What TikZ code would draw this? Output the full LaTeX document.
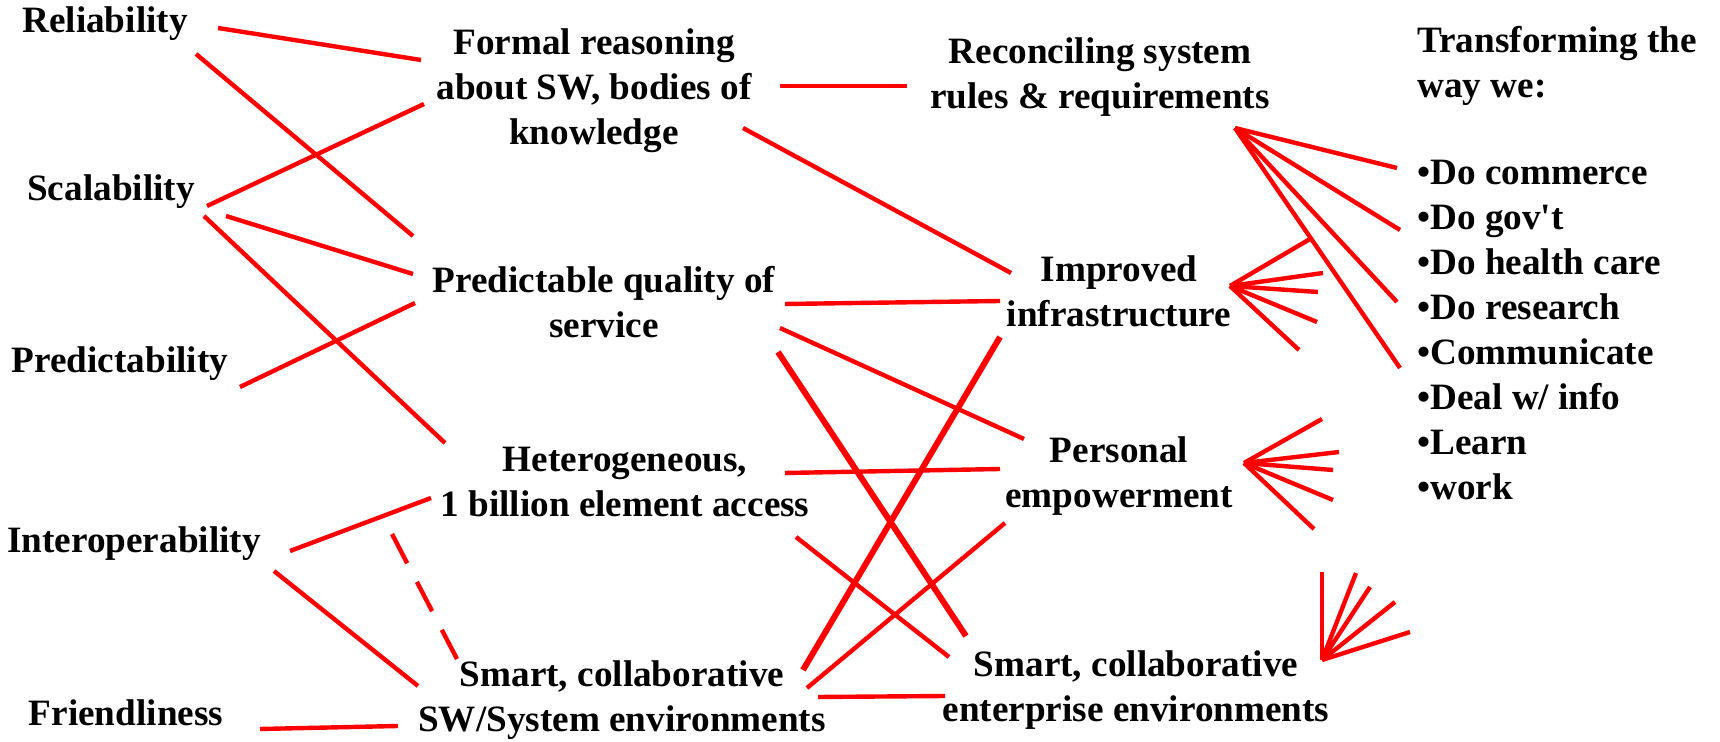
\documentclass[tikz,border=0pt]{standalone}
\usepackage{fontspec}
\setmainfont{Liberation Serif}
\begin{document}
\begin{tikzpicture}[x=0.5pt,y=-0.5pt,
  lbl/.style={font=\bfseries\fontsize{18.6}{22.5}\selectfont, inner sep=0pt, align=center},
  lst/.style={font=\bfseries\fontsize{18.6}{22.5}\selectfont, inner sep=0pt, align=left, anchor=west},
  link/.style={draw=red, line width=2.2pt},
  heavy/.style={draw=red, line width=3pt},
  dashlink/.style={draw=red, line width=2.2pt, dash pattern=on 16.5pt off 10.5pt}]
\useasboundingbox (0,0) rectangle (1720,742);
% left column
\node[lbl] (rel) at (105,24) {Reliability};
\node[lbl] (sca) at (111,192) {Scalability};
\node[lbl] (prd) at (120,364) {Predictability};
\node[lbl] (int) at (134,544) {Interoperability};
\node[lbl] (fri) at (126,713) {Friendliness};
% second column
\node[lbl] (frm) at (594,91) {Formal reasoning\\about SW, bodies of\\knowledge};
\node[lbl] (pqs) at (604,302) {Predictable quality of\\service};
\node[lbl] (het) at (625,482) {Heterogeneous,\\1 billion element access};
\node[lbl] (ssw) at (622,700) {Smart, collaborative\\SW/System environments};
% third column
\node[lbl] (rec) at (1100,77) {Reconciling system\\rules \& requirements};
\node[lbl] (imp) at (1119,291) {Improved\\infrastructure};
\node[lbl] (per) at (1119,476) {Personal\\empowerment};
\node[lbl] (sce) at (1136,690) {Smart, collaborative\\enterprise environments};
% right column
\node[lst] (trf) at (1417,66) {Transforming the\\way we:};
\node[lst] (way) at (1417,330) {•Do commerce\\•Do gov{\addfontfeatures{Ligatures=TeXOff}'}t\\•Do health care\\•Do research\\•Communicate\\•Deal w/ info\\•Learn\\•work};
% connector end points
\coordinate (rel-a) at (218,28);  \coordinate (frm-a) at (421,60);
\coordinate (rel-b) at (196,54);  \coordinate (pqs-a) at (413,236);
\coordinate (sca-a) at (207,206); \coordinate (frm-b) at (424,104);
\coordinate (sca-b) at (226,216); \coordinate (pqs-b) at (413,274);
\coordinate (sca-c) at (204,216); \coordinate (het-a) at (445,443);
\coordinate (prd-a) at (240,387); \coordinate (pqs-c) at (415,303);
\coordinate (int-a) at (290,551); \coordinate (het-b) at (431,498);
\coordinate (int-b) at (274,571); \coordinate (ssw-a) at (418,686);
\coordinate (het-c) at (392,534); \coordinate (ssw-b) at (457,659);
\coordinate (fri-a) at (260,729); \coordinate (ssw-c) at (398,726);
\coordinate (frm-c) at (780,86);  \coordinate (rec-a) at (907,86);
\coordinate (frm-d) at (743,128); \coordinate (imp-a) at (1011,273);
\coordinate (pqs-d) at (785,304); \coordinate (imp-b) at (1000,301);
\coordinate (pqs-e) at (780,328); \coordinate (per-a) at (1024,439);
\coordinate (pqs-f) at (778,352); \coordinate (sce-a) at (966,636);
\coordinate (het-d) at (785,473); \coordinate (per-b) at (1000,469);
\coordinate (het-e) at (796,537); \coordinate (sce-b) at (949,657);
\coordinate (ssw-d) at (803,670); \coordinate (imp-c) at (1000,337);
\coordinate (ssw-e) at (807,688); \coordinate (per-c) at (1005,523);
\coordinate (ssw-f) at (818,697); \coordinate (sce-c) at (945,696);
% connectors
\draw[link] (rel-a) -- (frm-a);
\draw[link] (rel-b) -- (pqs-a);
\draw[link] (sca-a) -- (frm-b);
\draw[link] (sca-b) -- (pqs-b);
\draw[link] (sca-c) -- (het-a);
\draw[link] (prd-a) -- (pqs-c);
\draw[link] (int-a) -- (het-b);
\draw[link] (int-b) -- (ssw-a);
\draw[dashlink] (het-c) -- (ssw-b);
\draw[link] (fri-a) -- (ssw-c);
\draw[link] (frm-c) -- (rec-a);
\draw[link] (frm-d) -- (imp-a);
\draw[link] (pqs-d) -- (imp-b);
\draw[link] (pqs-e) -- (per-a);
\draw[heavy] (pqs-f) -- (sce-a);
\draw[link] (het-d) -- (per-b);
\draw[link] (het-e) -- (sce-b);
\draw[heavy] (ssw-d) -- (imp-c);
\draw[link] (ssw-e) -- (per-c);
\draw[link] (ssw-f) -- (sce-c);
% fan from Reconciling to the list
\coordinate (fanA) at (1235,128);
\foreach \p in {(1397,168),(1400,230),(1397,302),(1400,368)}
  \draw[link] (fanA) -- \p;
% fan into Improved
\coordinate (fanB) at (1230,286);
\foreach \p in {(1310,239),(1323,273),(1318,292),(1317,322),(1299,350)}
  \draw[link] (fanB) -- \p;
% fan into Personal
\coordinate (fanC) at (1244,463);
\foreach \p in {(1322,419),(1339,452),(1333,470),(1333,500),(1314,529)}
  \draw[link] (fanC) -- \p;
% fan into Smart enterprise
\coordinate (fanD) at (1322,660);
\foreach \p in {(1322,572),(1356,573),(1370,587),(1395,602),(1410,632)}
  \draw[link] (fanD) -- \p;
\end{tikzpicture}
\end{document}
